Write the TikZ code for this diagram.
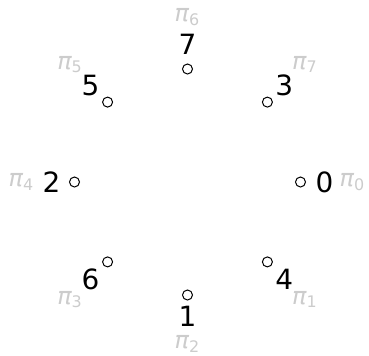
\documentclass[tikz,border=0pt]{standalone}
\usepackage{fontspec}
\setmainfont{DejaVu Sans}
\newfontfamily\piface{DejaVu Sans Oblique}

\tikzset{
    dot/.style={circle, draw, line width=0.5bp, minimum size=5bp, inner sep=0pt},
    num/.style={font=\fontsize{14}{16}\selectfont, inner sep=0pt},
    perm/.style={font=\fontsize{12}{14}\selectfont, text=black!20, inner sep=0pt}
}
\newcommand{\permlabel}[1]{{\piface π}\textsubscript{#1}}

\begin{document}
\begin{tikzpicture}[x=0.5bp, y=0.5bp]
    \useasboundingbox (-187.5,-174) rectangle (181.5,182);

    % Nodes
    \node[dot] (c0) at (0:113) {};
    \node[dot] (c3) at (45:113) {};
    \node[dot] (c7) at (90:113) {};
    \node[dot] (c5) at (135:113) {};
    \node[dot] (c2) at (180:113) {};
    \node[dot] (c6) at (225:113) {};
    \node[dot] (c1) at (270:113) {};
    \node[dot] (c4) at (315:113) {};

    % Numbers
    \node[num] (n0) at (0:137) {0};
    \node[num] (n3) at (45:137) {3};
    \node[num] (n7) at (90:138) {7};
    \node[num] (n5) at (135:137) {5};
    \node[num] (n2) at (180:136) {2};
    \node[num] (n6) at (225:137) {6};
    \node[num] (n1) at (270:134) {1};
    \node[num] (n4) at (315:137) {4};

    % Permutation labels
    \node[perm] (p0) at (0:165) {\permlabel{0}};
    \node[perm] (p7) at (45:166) {\permlabel{7}};
    \node[perm] (p6) at (90:165) {\permlabel{6}};
    \node[perm] (p5) at (135:166) {\permlabel{5}};
    \node[perm] (p4) at (180:166) {\permlabel{4}};
    \node[perm] (p3) at (225:166) {\permlabel{3}};
    \node[perm] (p2) at (270:162) {\permlabel{2}};
    \node[perm] (p1) at (315:166) {\permlabel{1}};
\end{tikzpicture}
\end{document}
